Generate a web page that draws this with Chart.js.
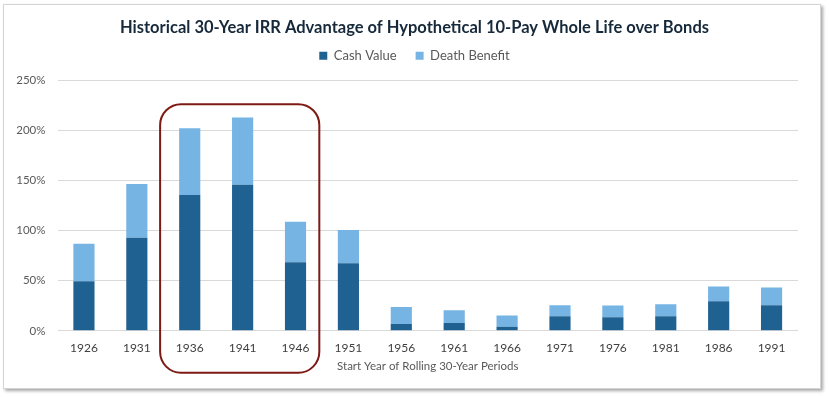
<!DOCTYPE html>
<html>
<head>
<meta charset="utf-8">
<script src="https://cdn.jsdelivr.net/npm/chart.js@4.4.1/dist/chart.umd.min.js"></script>
<style>
  html, body { margin: 0; padding: 0; background: #fff; }
  body { width: 829px; height: 397px; position: relative; overflow: hidden; }
  #frame {
    position: absolute; left: 3px; top: 4px; width: 816px; height: 383px;
    border: 1px solid #d4d4d4; background: #fff;
    box-shadow: 2px 2px 3px rgba(0,0,0,0.35);
  }
  #chart { position: absolute; left: 0; top: 0; }
</style>
</head>
<body>
<div id="frame"></div>
<canvas id="chart" width="829" height="397"></canvas>
<script>
const years = ["1926","1931","1936","1941","1946","1951","1956","1961","1966","1971","1976","1981","1986","1991"];
const cashValue = [49.5, 92.8, 135.4, 145.6, 68.3, 67.4, 6.9, 7.9, 4.0, 14.5, 13.6, 14.5, 29.4, 25.4];
const deathBenefit = [37.4, 53.5, 66.6, 67.1, 40.4, 33.0, 16.9, 12.6, 11.2, 10.9, 11.6, 11.9, 14.9, 17.9];
const yTicks = [0, 50, 100, 150, 200, 250];

// highlighted range of start years
const highlightFrom = "1936";
const highlightTo = "1946";

const FONT = "Lato, 'Open Sans', sans-serif";

const highlightBox = {
  id: "highlightBox",
  afterDatasetsDraw(chart) {
    const x = chart.scales.x, y = chart.scales.y;
    const cat = (x.right - x.left) / years.length;
    const left = x.getPixelForValue(years.indexOf(highlightFrom)) - cat * 0.56;
    const right = x.getPixelForValue(years.indexOf(highlightTo)) + cat * 0.45;
    const top = y.getPixelForValue(226);
    const bottom = y.getPixelForValue(0) + 42;
    const ctx = chart.ctx;
    ctx.save();
    ctx.strokeStyle = "#7d1a14";
    ctx.lineWidth = 2;
    ctx.beginPath();
    ctx.roundRect(left, top, right - left, bottom - top, 21);
    ctx.stroke();
    ctx.restore();
  }
};

new Chart(document.getElementById("chart"), {
  type: "bar",
  data: {
    labels: years,
    datasets: [
      { label: "Cash Value", data: cashValue, backgroundColor: "#1f6190",
        categoryPercentage: 0.4, barPercentage: 1 },
      { label: "Death Benefit", data: deathBenefit, backgroundColor: "#75b4e3",
        categoryPercentage: 0.4, barPercentage: 1 }
    ]
  },
  options: {
    responsive: false,
    animation: false,
    layout: { padding: { top: 5, right: 0, bottom: 24, left: 0 } },
    plugins: {
      title: {
        display: true,
        text: "Historical 30-Year IRR Advantage of Hypothetical 10-Pay Whole Life over Bonds",
        color: "#16293a",
        font: { family: FONT, size: 16.5, weight: "bold" },
        padding: { top: 13, bottom: -7.5 }
      },
      legend: {
        position: "top",
        labels: {
          boxWidth: 8, boxHeight: 8, padding: 19,
          color: "#595959",
          font: { family: FONT, size: 13 }
        }
      },
      subtitle: {
        display: true, text: " ", weight: 500,
        font: { size: 1 }, padding: { top: 0, bottom: 6.6 }
      },
      tooltip: { enabled: false }
    },
    scales: {
      x: {
        stacked: true,
        grid: { display: false, drawTicks: false },
        border: { display: false },
        ticks: { color: "#404040", padding: 10, font: { family: FONT, size: 12 } },
        title: {
          display: true, text: "Start Year of Rolling 30-Year Periods",
          color: "#595959", font: { family: FONT, size: 11.5 },
          padding: { top: -6, bottom: 0 }
        }
      },
      y: {
        stacked: true,
        min: 0, max: 250,
        afterFit(s) { s.width = 57.5; },
        afterBuildTicks(s) { s.ticks = yTicks.map(v => ({ value: v })); },
        grid: { color: "#d9d9d9", drawTicks: false },
        border: { display: false },
        ticks: {
          color: "#595959", padding: 12,
          font: { family: FONT, size: 11.5 },
          callback: v => v + "%"
        }
      },
      // empty right margin so the title and legend centre on the full width
      yRight: {
        position: "right",
        afterFit(s) { s.width = 31; },
        grid: { display: false, drawTicks: false },
        border: { display: false },
        ticks: { display: false }
      }
    }
  },
  plugins: [highlightBox]
});
</script>
</body>
</html>
